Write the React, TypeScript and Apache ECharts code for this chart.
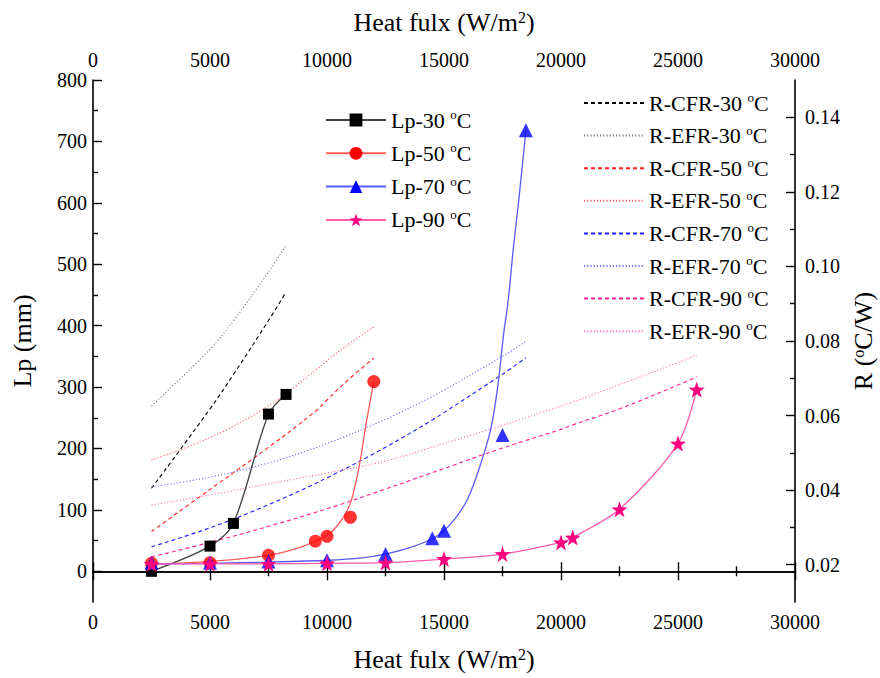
import React, { useEffect, useRef } from "react";
import * as echarts from "echarts";

// ---- measured points (Lp, mm) ----
const xs30 = [2500, 5000, 6000, 7500, 8250];
const lp30 = [0, 41, 78, 256, 288];
const xs50 = [2500, 5000, 7500, 9500, 10000, 11000, 12000];
const lp50 = [13, 14, 26, 49, 57, 88, 309];
const xs70 = [2500, 5000, 7500, 10000, 12500, 14500, 15000, 17500, 18500];
const lp70 = [14, 14, 16, 18, 28, 54, 66, 222, 718];
const xs90 = [2500, 5000, 7500, 10000, 12500, 15000, 17500, 20000, 20500, 22500, 25000, 25800];
const lp90 = [12, 12, 12, 13, 14, 20, 28, 47, 55, 101, 208, 296];

// ---- fitted curves ----
const fit50X = [2500, 5000, 7500, 9000, 10000, 10500, 11000, 11400, 11670, 12000];
const fit50Y = [11, 16, 26, 41, 59, 77, 111, 176, 240, 309];
const fit70X = [2500, 5000, 7500, 10000, 11500, 12500, 13500, 14500, 15000, 15500, 16000, 16500, 17000, 17300, 17550, 17750, 17960, 18200, 18500];
const fit70Y = [12, 13, 15, 18, 22, 28, 38, 53, 66, 87, 117, 167, 232, 302, 387, 443, 525, 606, 718];

// ---- thermal resistance (R, °C/W) ----
const rCfr30 = [0.0405, 0.0618, 0.071, 0.0855, 0.0931];
const rEfr30 = [0.0626, 0.0778, 0.0854, 0.0985, 0.1057];
const rCfr50 = [0.0289, 0.0402, 0.0515, 0.0611, 0.0642, 0.0701, 0.0754];
const rEfr50 = [0.0481, 0.0541, 0.0626, 0.0721, 0.0747, 0.0795, 0.0837];
const rCfr70 = [0.0248, 0.0299, 0.0361, 0.0433, 0.0515, 0.0588, 0.0608, 0.0711, 0.0755];
const rEfr70 = [0.0409, 0.0435, 0.0473, 0.0525, 0.059, 0.0651, 0.0668, 0.0759, 0.0799];
const rCfr90 = [0.0221, 0.026, 0.0303, 0.035, 0.0403, 0.0458, 0.0513, 0.0563, 0.0575, 0.0618, 0.0682, 0.0704];
const rEfr90 = [0.036, 0.0387, 0.0417, 0.0446, 0.0478, 0.0525, 0.0574, 0.0625, 0.0636, 0.0683, 0.0742, 0.0762];

// ---- ticks ----
const lpTicks = [0, 100, 200, 300, 400, 500, 600, 700, 800];
const lpMinorTicks = [50, 150, 250, 350, 450, 550, 650, 750];
const rTicks = [0.02, 0.04, 0.06, 0.08, 0.1, 0.12, 0.14];
const rMinorTicks = [0.03, 0.05, 0.07, 0.09, 0.11, 0.13];

const lpNames = ["Lp-30 °C", "Lp-50 °C", "Lp-70 °C", "Lp-90 °C"];
const rNames = [
  "R-CFR-30 °C", "R-EFR-30 °C", "R-CFR-50 °C", "R-EFR-50 °C",
  "R-CFR-70 °C", "R-EFR-70 °C", "R-CFR-90 °C", "R-EFR-90 °C",
];

const FONT = "'Liberation Serif', 'Times New Roman', serif";
const STAR =
  "path://M0,-10L2.35,-3.24L9.51,-3.09L3.8,1.24L5.88,8.09L0,4L-5.88,8.09L-3.8,1.24L-9.51,-3.09L-2.35,-3.24Z";

const zip = (xs: number[], ys: number[]) => xs.map((x, i) => [x, ys[i]]);

const DASH = [4, 3];
const DOT = [1.2, 2];

export default function App() {
  const ref = useRef<HTMLDivElement>(null);
  useEffect(() => {
    if (!ref.current) return;
    const chart = echarts.init(ref.current, undefined, { renderer: "svg" });
    const axisLine = { show: true, lineStyle: { color: "#000", width: 1.6 } };
    const tickStyle = { color: "#000", width: 1.4 };
    const labelStyle = { color: "#000", fontFamily: FONT, fontSize: 20 };
    const nameStyle = {
      color: "#000",
      fontFamily: FONT,
      fontSize: 26,
      rich: {
        sup: { fontFamily: FONT, fontSize: 16, verticalAlign: "top", color: "#000" },
      },
    };
    const xCommon = {
      type: "value",
      min: 0,
      max: 30000,
      interval: 5000,
      axisLine,
      axisTick: { show: true, inside: true, length: 9, lineStyle: tickStyle },
      minorTick: { show: true, splitNumber: 2, length: 5, lineStyle: tickStyle },
      splitLine: { show: false },
      axisLabel: {
        ...labelStyle,
        margin: 10,
        showMinLabel: true,
        showMaxLabel: true,
        formatter: (v: number) => String(v),
      },
      name: "Heat fulx (W/m{sup|2})",
      nameLocation: "middle",
      nameTextStyle: nameStyle,
    };

    const rLine = (name: string, xs: number[], ys: number[], color: string, dash: number[]) => ({
      name,
      type: "line",
      yAxisIndex: 2,
      data: zip(xs, ys),
      smooth: 0.4,
      showSymbol: false,
      symbol: "none",
      lineStyle: { color, width: 1.1, type: dash },
      itemStyle: { color, opacity: 0 },
      z: 2,
    });

    const legendText = {
      color: "#000",
      fontFamily: FONT,
      fontSize: 22,
      lineHeight: 24,
      rich: {
        t: { fontFamily: FONT, fontSize: 22, lineHeight: 24, color: "#000" },
        sup: { fontFamily: FONT, fontSize: 13, lineHeight: 24, verticalAlign: "top", color: "#000" },
      },
    };
    const fmt = (name: string) => {
      const base = name.replace(" °C", "");
      return `{t|${base} }{sup|o}{t|C}`;
    };

    chart.setOption({
      animation: false,
      backgroundColor: "#fff",
      grid: {
        left: 93,
        right: 85,
        top: 80,
        bottom: 76,
        containLabel: false,
        outerBoundsMode: "none",
      },
      xAxis: [
        { ...xCommon, position: "bottom", nameGap: 44 },
        { ...xCommon, position: "top", nameGap: 45 },
      ],
      yAxis: [
        {
          type: "value",
          position: "left",
          min: -50,
          max: 800,
          axisLine,
          axisTick: { show: true, inside: true, length: 9, lineStyle: tickStyle, customValues: lpTicks },
          axisLabel: { ...labelStyle, margin: 6, customValues: lpTicks },
          splitLine: { show: false },
          name: "Lp (mm)",
          nameLocation: "middle",
          nameRotate: 90,
          nameGap: 58,
          nameTextStyle: nameStyle,
        },
        {
          type: "value",
          position: "left",
          min: -50,
          max: 800,
          axisLine: { show: false },
          axisTick: { show: true, inside: true, length: 5, lineStyle: tickStyle, customValues: lpMinorTicks },
          axisLabel: { show: false },
          splitLine: { show: false },
        },
        {
          type: "value",
          position: "right",
          min: 0.01,
          max: 0.15,
          axisLine,
          axisTick: { show: true, inside: true, length: 9, lineStyle: tickStyle, customValues: rTicks },
          axisLabel: {
            ...labelStyle,
            margin: 10,
            customValues: rTicks,
            formatter: (v: number) => v.toFixed(2),
          },
          splitLine: { show: false },
          name: "R ({sup|o}C/W)",
          nameLocation: "middle",
          nameRotate: 90,
          nameGap: 54,
          nameTextStyle: nameStyle,
        },
        {
          type: "value",
          position: "right",
          min: 0.01,
          max: 0.15,
          axisLine: { show: false },
          axisTick: { show: true, inside: true, length: 5, lineStyle: tickStyle, customValues: rMinorTicks },
          axisLabel: { show: false },
          splitLine: { show: false },
        },
      ],
      legend: [
        {
          data: lpNames,
          orient: "vertical",
          left: 325,
          top: 108,
          padding: 0,
          itemWidth: 60,
          itemHeight: 16,
          itemGap: 9.3,
          selectedMode: false,
          formatter: fmt,
          textStyle: legendText,
        },
        {
          data: rNames,
          orient: "vertical",
          left: 583,
          top: 91,
          padding: 0,
          itemWidth: 60,
          itemHeight: 14,
          itemGap: 8.6,
          selectedMode: false,
          formatter: fmt,
          textStyle: legendText,
        },
      ],
      series: [
        rLine(rNames[0], xs30, rCfr30, "#000000", DASH),
        rLine(rNames[1], xs30, rEfr30, "#808080", DOT),
        rLine(rNames[2], xs50, rCfr50, "#ff2020", DASH),
        rLine(rNames[3], xs50, rEfr50, "#ff6060", DOT),
        rLine(rNames[4], xs70, rCfr70, "#2020ff", DASH),
        rLine(rNames[5], xs70, rEfr70, "#7070ff", DOT),
        rLine(rNames[6], xs90, rCfr90, "#ff2090", DASH),
        rLine(rNames[7], xs90, rEfr90, "#ff70b8", DOT),
        {
          name: lpNames[0],
          type: "line",
          yAxisIndex: 0,
          data: zip(xs30, lp30),
          smooth: 0.3,
          symbol: "rect",
          symbolSize: 11,
          lineStyle: { color: "#404040", width: 1.3 },
          itemStyle: { color: "#000" },
          z: 3,
        },
        {
          name: lpNames[1],
          type: "line",
          yAxisIndex: 0,
          data: zip(fit50X, fit50Y),
          smooth: 0.3,
          showSymbol: false,
          symbol: "circle",
          symbolSize: 13,
          lineStyle: { color: "#ff5a5a", width: 1.3 },
          itemStyle: { color: "#ff0000" },
          z: 3,
        },
        {
          type: "scatter",
          yAxisIndex: 0,
          data: zip(xs50, lp50),
          symbol: "circle",
          symbolSize: 13,
          itemStyle: { color: "#ff0000" },
          z: 4,
        },
        {
          name: lpNames[2],
          type: "line",
          yAxisIndex: 0,
          data: zip(fit70X, fit70Y),
          smooth: 0.3,
          showSymbol: false,
          symbol: "triangle",
          symbolSize: 14,
          lineStyle: { color: "#5a5aff", width: 1.3 },
          itemStyle: { color: "#0000ff" },
          z: 3,
        },
        {
          type: "scatter",
          yAxisIndex: 0,
          data: zip(xs70, lp70),
          symbol: "triangle",
          symbolSize: 14,
          itemStyle: { color: "#0000ff" },
          z: 4,
        },
        {
          name: lpNames[3],
          type: "line",
          yAxisIndex: 0,
          data: zip(xs90, lp90),
          smooth: 0.3,
          symbol: STAR,
          symbolSize: 16,
          lineStyle: { color: "#ff5aac", width: 1.3 },
          itemStyle: { color: "#ff0080" },
          z: 5,
        },
      ],
    });
    return () => chart.dispose();
  }, []);
  return (
    <div
      ref={ref}
      style={{ position: "fixed", left: 0, top: 0, width: 880, height: 678, background: "#fff" }}
    />
  );
}
